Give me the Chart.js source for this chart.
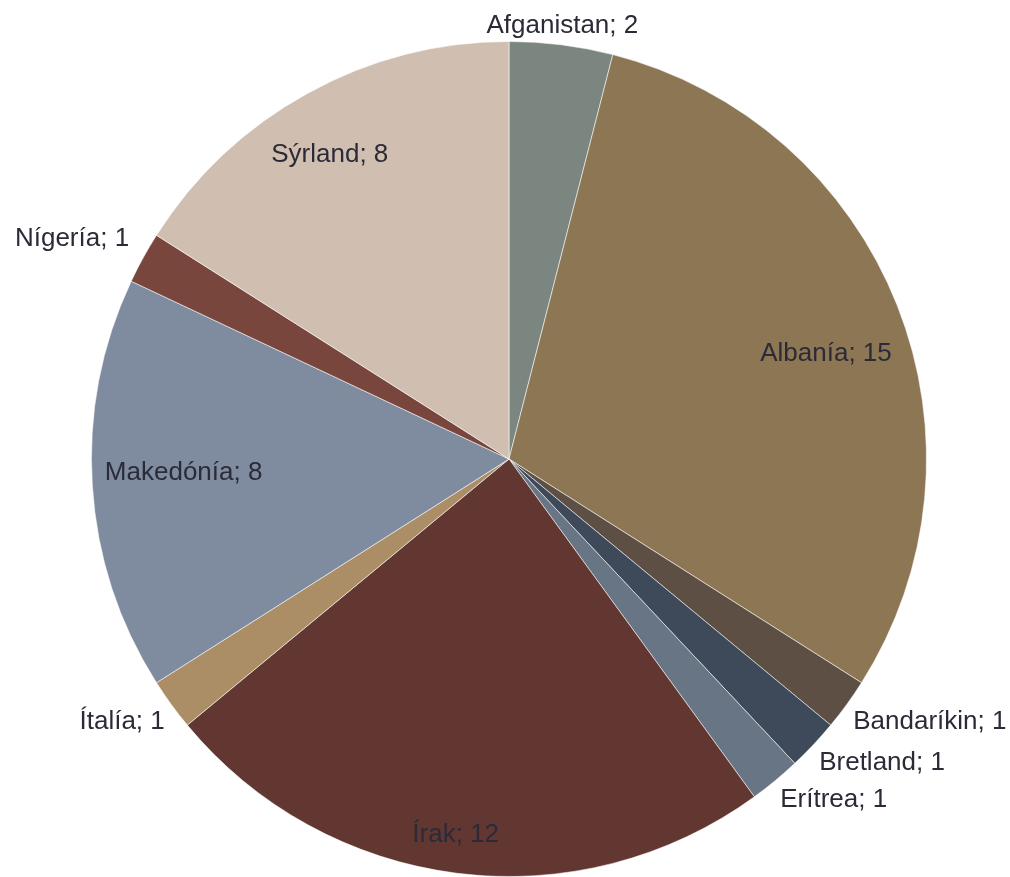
<!DOCTYPE html>
<html>
<head>
<meta charset="utf-8">
<script src="https://cdn.jsdelivr.net/npm/chart.js@4"></script>
<style>
  body { margin: 0; background: #fff; }
  #pie { display: block; }
</style>
</head>
<body>
<canvas id="pie" width="1010" height="877"></canvas>
<script>
var labels = ["Afganistan", "Albanía", "Bandaríkin", "Bretland", "Erítrea", "Írak", "Ítalía", "Makedónía", "Nígería", "Sýrland"];
var values = [2, 15, 1, 1, 1, 12, 1, 8, 1, 8];
var colors = ["#7B8680", "#8C7653", "#5E4F45", "#3E4A5A", "#687584", "#623631", "#AB8D66", "#7F8B9F", "#79463D", "#D0BFB0"];

// label placement: null = outside, else [radius fraction, angle fraction in slice]
var inside = [null, [0.8, 0.53], null, null, null, [0.91, 0.51], null, [0.78, 0.52], null, [0.845, 0.47]];
// extra gap for outside labels
var gap = [8, 0, 8, 8, 8, 0, 8, 0, 16, 0];

var sliceLabels = {
    id: "sliceLabels",
    afterDatasetsDraw: function (chart) {
        var ctx = chart.ctx;
        var meta = chart.getDatasetMeta(0);
        ctx.save();
        ctx.font = "26px 'Liberation Sans', Arial, sans-serif";
        ctx.fillStyle = "#2B2B38";
        meta.data.forEach(function (arc, i) {
            var text = labels[i] + "; " + values[i];
            var a0 = arc.startAngle, a1 = arc.endAngle;
            var x, y;
            if (inside[i]) {
                var a = a0 + (a1 - a0) * inside[i][1];
                var r = arc.outerRadius * inside[i][0];
                x = arc.x + Math.cos(a) * r;
                y = arc.y + Math.sin(a) * r;
                ctx.textAlign = "center";
                ctx.textBaseline = "middle";
                ctx.fillText(text, x, y);
            } else {
                var m = (a0 + a1) / 2;
                var ro = arc.outerRadius + gap[i];
                var cx = Math.cos(m), cy = Math.sin(m);
                x = arc.x + cx * ro;
                y = arc.y + cy * ro;
                ctx.textAlign = cx > 0.2 ? "left" : (cx < -0.2 ? "right" : "center");
                ctx.textBaseline = cy > 0 ? "top" : "bottom";
                ctx.fillText(text, x, y + (cy > 0 ? 0 : 2));
            }
        });
        ctx.restore();
    }
};

new Chart(document.getElementById("pie"), {
    type: "pie",
    data: {
        labels: labels,
        datasets: [{
            data: values,
            backgroundColor: colors,
            borderColor: "rgba(255,255,255,0.55)",
            borderWidth: 1
        }]
    },
    options: {
        responsive: false,
        animation: false,
        layout: { padding: { left: 91, right: 83, top: 41, bottom: 0 } },
        plugins: {
            legend: { display: false },
            tooltip: { enabled: false }
        }
    },
    plugins: [sliceLabels]
});
</script>
</body>
</html>
